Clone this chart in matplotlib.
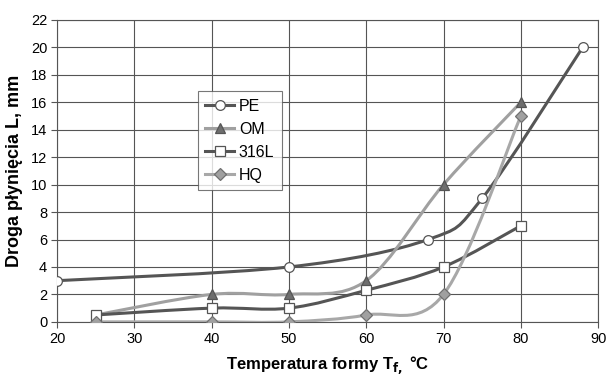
import numpy as np
import matplotlib
matplotlib.use('Agg')
import matplotlib.pyplot as plt
from matplotlib.path import Path
from matplotlib.patches import PathPatch
from matplotlib.lines import Line2D

plt.rcParams['font.family'] = ['Liberation Sans', 'DejaVu Sans']

# data
pe_x = [20, 50, 68, 75, 88]
pe_y = [3, 4, 6, 9, 20]
om_x = [25, 40, 50, 60, 70, 80]
om_y = [0.5, 2, 2, 3, 10, 16]
l316_x = [25, 40, 50, 60, 70, 80]
l316_y = [0.5, 1, 1, 2.3, 4, 7]
hq_x = [25, 40, 50, 60, 70, 80]
hq_y = [0, 0, 0, 0.5, 2, 15]


def smooth_path(xs, ys):
    # excel-like smoothed line: catmull-rom segments as cubic beziers
    p = np.column_stack([xs, ys]).astype(float)
    ext = np.vstack([p[0], p, p[-1]])
    verts = [p[0]]
    codes = [Path.MOVETO]
    for i in range(1, len(ext) - 2):
        p0, p1, p2, p3 = ext[i - 1], ext[i], ext[i + 1], ext[i + 2]
        c1 = p1 + (p2 - p0) / 6
        c2 = p2 - (p3 - p1) / 6
        verts += [c1, c2, p2]
        codes += [Path.CURVE4] * 3
    return Path(verts, codes)


series = [
    ('PE', pe_x, pe_y, '#555555', 'o', 'white', '#555555'),
    ('OM', om_x, om_y, '#a0a0a0', '^', '#6e6e6e', '#555555'),
    ('316L', l316_x, l316_y, '#555555', 's', 'white', '#555555'),
    ('HQ', hq_x, hq_y, '#a8a8a8', 'D', '#a0a0a0', '#707070'),
]

fig = plt.figure(figsize=(6.06, 3.76), dpi=100)
ax = fig.add_axes([0.094, 0.144, 0.893, 0.803])

handles = []
for name, xs, ys, lc, mk, mfc, mec in series:
    ax.add_patch(PathPatch(smooth_path(xs, ys), facecolor='none',
                           edgecolor=lc, lw=2.2, zorder=3))
    ms = 6 if mk == 'D' else 7
    ax.plot(xs, ys, ls='none', marker=mk, ms=ms, mfc=mfc, mec=mec,
            mew=0.9, zorder=4)
    handles.append(Line2D([], [], color=lc, lw=2.2, marker=mk, ms=ms,
                          mfc=mfc, mec=mec, mew=0.9, label=name))

ax.set_xlim(20, 90)
ax.set_ylim(0, 22)
ax.set_xticks(range(20, 91, 10))
ax.set_yticks(range(0, 23, 2))
ax.grid(True, color='#555555', lw=0.8)
ax.set_axisbelow(True)
for s in ax.spines.values():
    s.set_color('#555555')
    s.set_linewidth(0.8)
ax.tick_params(length=4, width=0.8, color='#555555', labelsize=10.5, pad=3)

ax.set_xlabel('Temperatura formy T$_{\\mathbf{f,}}$ °C', fontsize=12,
              fontweight='bold', labelpad=6)
ax.set_ylabel('Droga płynięcia L, mm', fontsize=13, fontweight='bold',
              labelpad=6)

leg = fig.legend(handles=handles, loc='upper left',
                 bbox_to_anchor=(0.327, 0.757), fontsize=11.5,
                 frameon=True, fancybox=False, edgecolor='#555555',
                 handlelength=1.8, handletextpad=0.3, labelspacing=0.5,
                 borderpad=0.45, borderaxespad=0)
leg.get_frame().set_linewidth(0.8)

fig.savefig('out.png', dpi=100)
